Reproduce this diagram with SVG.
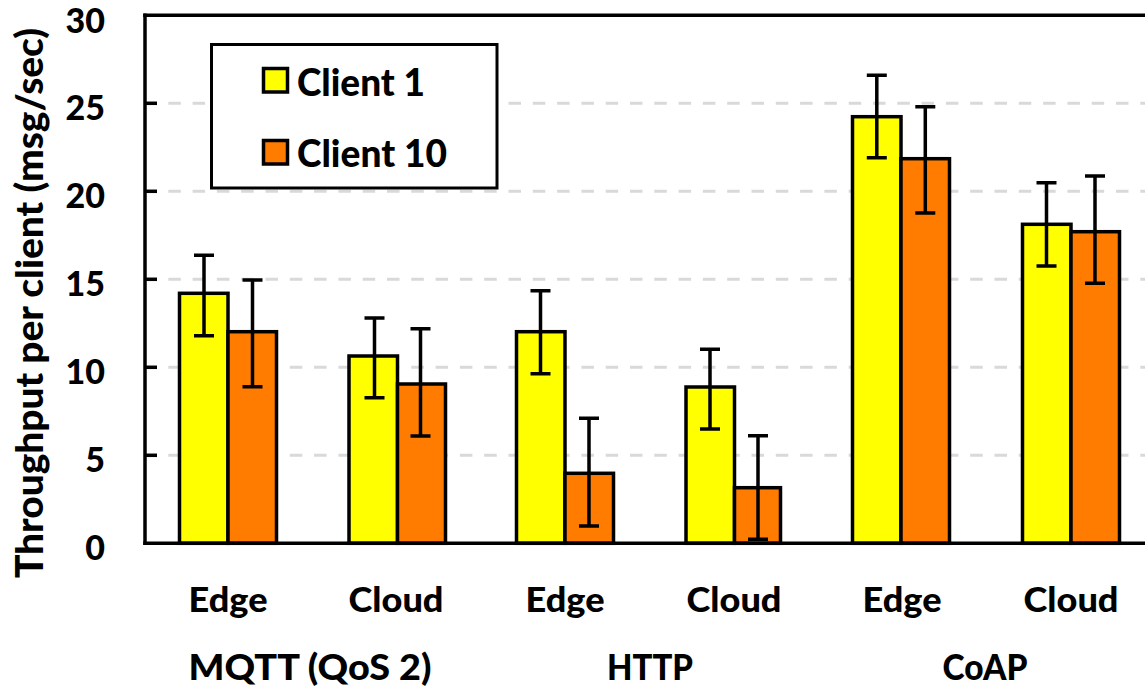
<svg xmlns="http://www.w3.org/2000/svg" width="1145" height="697" viewBox="0 0 1145 697">
<style>
  .grid { stroke:#D9D9D9; stroke-width:3; stroke-dasharray:12.5 11.8; fill:none; }
  .axis { stroke:#000; stroke-width:3.5; fill:none; stroke-linecap:square; }
  .tick { stroke:#000; stroke-width:3.5; }
  .y { fill:#FFFF00; stroke:#000; stroke-width:3.5; }
  .o { fill:#FF7C00; stroke:#000; stroke-width:3.5; }
  .err { stroke:#000; stroke-width:3.5; fill:none; }
  text { font-family:Lato, "Liberation Sans", sans-serif; font-weight:900; fill:#000; }
  .tl { font-size:34px; text-anchor:end; }
  .cat { font-size:34px; text-anchor:middle; }
  .grp { font-size:36px; text-anchor:middle; }
  .leg { font-size:37px; }
</style>

<g id="gridlines">
  <line class="grid" x1="144" y1="455.3" x2="1145" y2="455.3"/>
  <line class="grid" x1="144" y1="367.3" x2="1145" y2="367.3"/>
  <line class="grid" x1="144" y1="279.3" x2="1145" y2="279.3"/>
  <line class="grid" x1="144" y1="191.3" x2="1145" y2="191.3"/>
  <line class="grid" x1="144" y1="103.3" x2="1145" y2="103.3"/>
</g>

<g id="mqtt-edge">
  <rect class="y" x="179.5" y="293.3" width="48.5" height="250"/>
  <rect class="o" x="228" y="331.7" width="48.5" height="211.6"/>
  <path class="err" d="M204 255.3V335.7M194 255.3H214M194 335.7H214"/>
  <path class="err" d="M252.5 280V386.7M242.5 280H262.5M242.5 386.7H262.5"/>
</g>
<g id="mqtt-cloud">
  <rect class="y" x="349" y="356" width="48.5" height="187.3"/>
  <rect class="o" x="397.5" y="384" width="48" height="159.3"/>
  <path class="err" d="M374.5 318V397.7M364.5 318H384.5M364.5 397.7H384.5"/>
  <path class="err" d="M420.5 328.7V436M410.5 328.7H430.5M410.5 436H430.5"/>
</g>
<g id="http-edge">
  <rect class="y" x="516.5" y="331.7" width="48.5" height="211.6"/>
  <rect class="o" x="565" y="473.3" width="48.5" height="70"/>
  <path class="err" d="M540.5 290.7V373.7M530.5 290.7H550.5M530.5 373.7H550.5"/>
  <path class="err" d="M589 418.3V526M579 418.3H599M579 526H599"/>
</g>
<g id="http-cloud">
  <rect class="y" x="686" y="387" width="48.5" height="156.3"/>
  <rect class="o" x="734.5" y="487.7" width="46" height="55.6"/>
  <path class="err" d="M710 349.3V429M700 349.3H720M700 429H720"/>
  <path class="err" d="M758 435.7V539.3M748 435.7H768M748 539.3H768"/>
</g>
<g id="coap-edge">
  <rect class="y" x="852.5" y="116.7" width="48.5" height="426.6"/>
  <rect class="o" x="901" y="158.7" width="48.5" height="384.6"/>
  <path class="err" d="M876.8 75.3V157.7M866.8 75.3H886.8M866.8 157.7H886.8"/>
  <path class="err" d="M925.3 106.7V213M915.3 106.7H935.3M915.3 213H935.3"/>
</g>
<g id="coap-cloud">
  <rect class="y" x="1022.5" y="224.3" width="48.5" height="319"/>
  <rect class="o" x="1071" y="231.7" width="48.5" height="311.6"/>
  <path class="err" d="M1046.5 182.7V266M1036.5 182.7H1056.5M1036.5 266H1056.5"/>
  <path class="err" d="M1095 176V283.3M1085 176H1105M1085 283.3H1105"/>
</g>

<g id="axes">
  <line class="axis" x1="1145" y1="15.3" x2="145" y2="15.3"/>
  <line class="axis" x1="145" y1="15.3" x2="145" y2="543.3"/>
  <line class="axis" x1="145" y1="543.3" x2="1145" y2="543.3"/>
  <line class="tick" x1="145" y1="455.3" x2="157" y2="455.3"/>
  <line class="tick" x1="145" y1="367.3" x2="157" y2="367.3"/>
  <line class="tick" x1="145" y1="279.3" x2="157" y2="279.3"/>
  <line class="tick" x1="145" y1="191.3" x2="157" y2="191.3"/>
  <line class="tick" x1="145" y1="103.3" x2="157" y2="103.3"/>
</g>

<g id="y-labels">
  <text class="tl" x="105" y="560">0</text>
  <text class="tl" x="105" y="472">5</text>
  <text class="tl" x="105" y="384">10</text>
  <text class="tl" x="105" y="296">15</text>
  <text class="tl" x="105" y="208">20</text>
  <text class="tl" x="105" y="120">25</text>
  <text class="tl" x="105" y="32.5">30</text>
  <text transform="translate(43,303) rotate(-90)" style="font-size:38px;text-anchor:middle" textLength="550" lengthAdjust="spacingAndGlyphs">Throughput per client (msg/sec)</text>
</g>

<g id="x-labels">
  <text class="cat" x="228" y="611.7" textLength="79" lengthAdjust="spacingAndGlyphs">Edge</text>
  <text class="cat" x="396" y="611.7" textLength="95" lengthAdjust="spacingAndGlyphs">Cloud</text>
  <text class="cat" x="565" y="611.7" textLength="79" lengthAdjust="spacingAndGlyphs">Edge</text>
  <text class="cat" x="734" y="611.7" textLength="95" lengthAdjust="spacingAndGlyphs">Cloud</text>
  <text class="cat" x="902" y="611.7" textLength="79" lengthAdjust="spacingAndGlyphs">Edge</text>
  <text class="cat" x="1071" y="611.7" textLength="95" lengthAdjust="spacingAndGlyphs">Cloud</text>
  <text class="grp" x="310" y="680" textLength="243" lengthAdjust="spacingAndGlyphs">MQTT (QoS 2)</text>
  <text class="grp" x="650" y="680" textLength="86" lengthAdjust="spacingAndGlyphs">HTTP</text>
  <text class="grp" x="985" y="680" textLength="85" lengthAdjust="spacingAndGlyphs">CoAP</text>
</g>

<g id="legend">
  <rect x="211.5" y="44.5" width="285.5" height="143.5" fill="#FFFFFF" stroke="#000" stroke-width="3"/>
  <rect class="y" x="263.5" y="68.5" width="24" height="23.5"/>
  <text class="leg" x="297" y="96" textLength="128" lengthAdjust="spacingAndGlyphs">Client 1</text>
  <rect class="o" x="263.5" y="140.5" width="24" height="23.5"/>
  <text class="leg" x="297" y="167.3" textLength="150" lengthAdjust="spacingAndGlyphs">Client 10</text>
</g>
</svg>
